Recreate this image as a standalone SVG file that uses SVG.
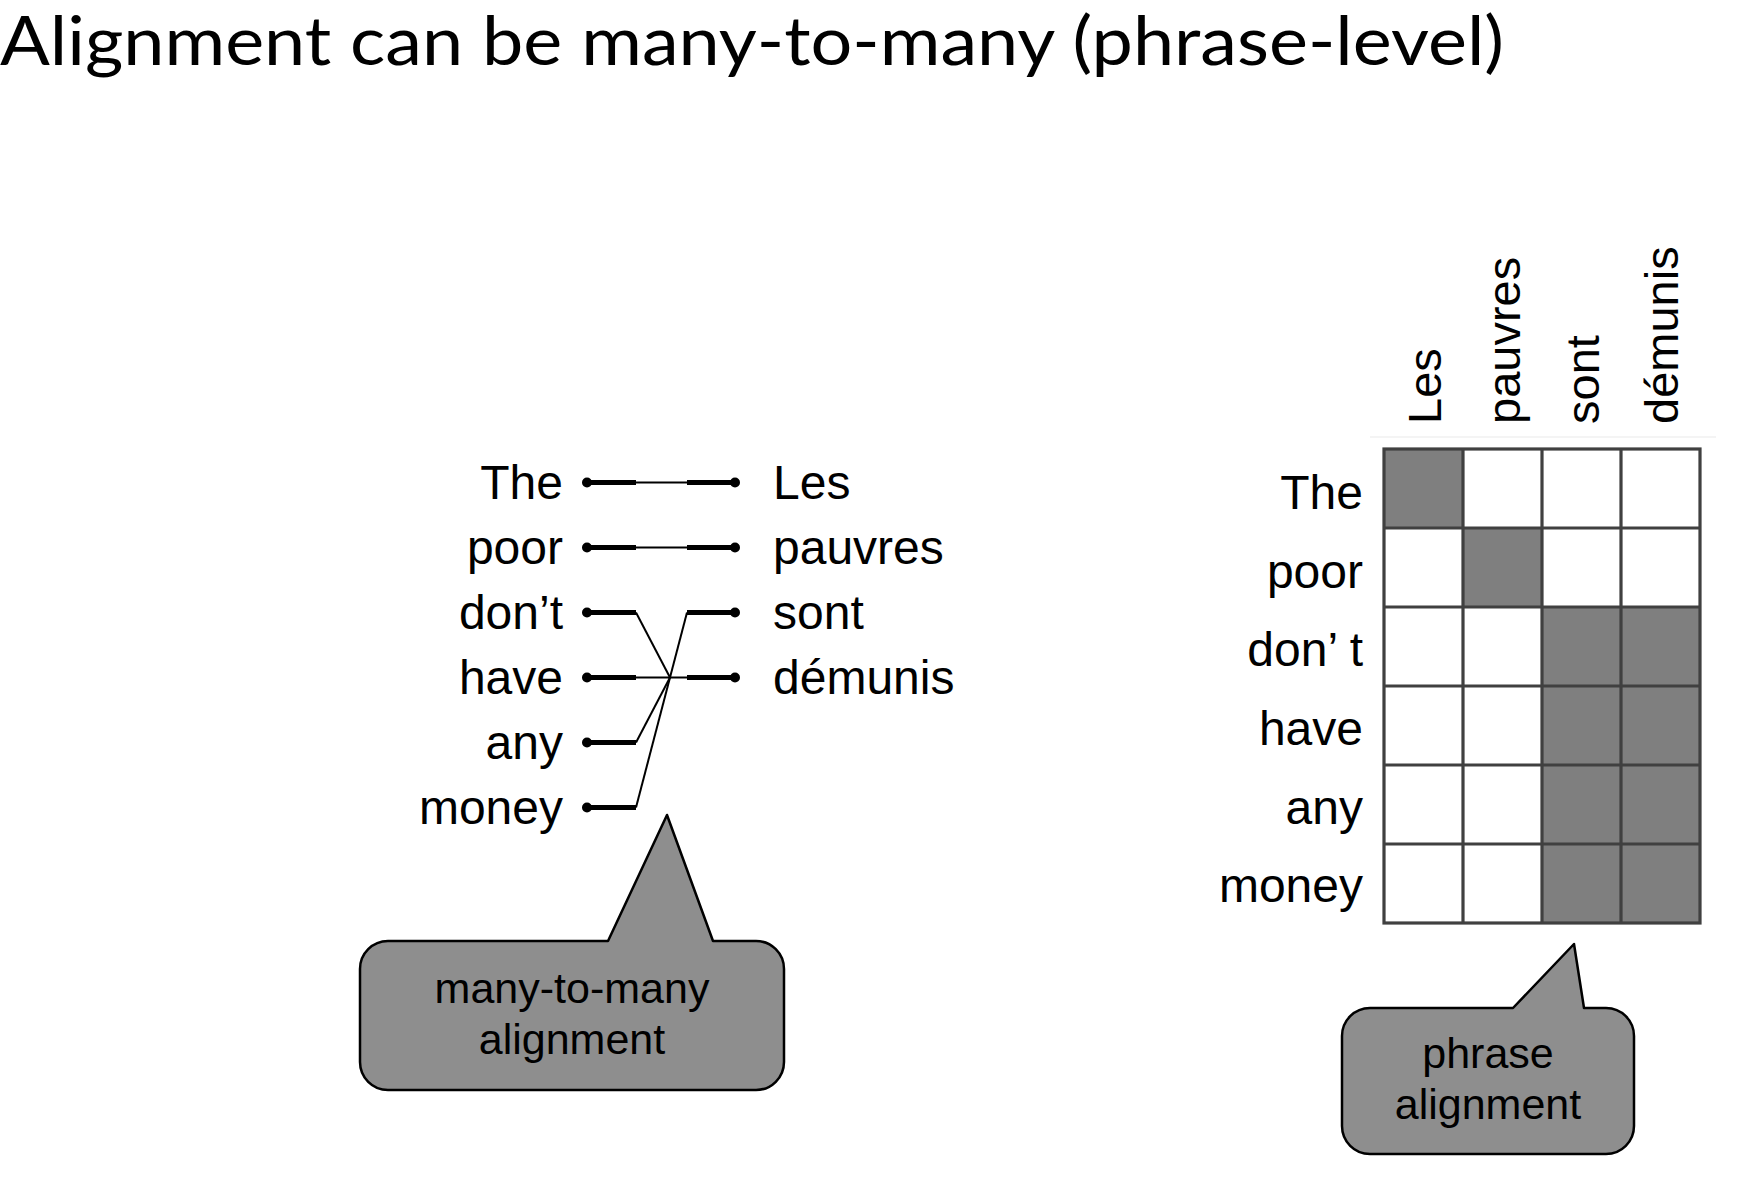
<svg xmlns="http://www.w3.org/2000/svg" width="1747" height="1183" viewBox="0 0 1747 1183">
<style>
.title{font-family:Lato,"Open Sans","Liberation Sans",sans-serif;font-size:68px;fill:#000}
.w{font-family:"Liberation Sans",Arial,sans-serif;font-size:48px;fill:#000}
.wl{font-family:"Liberation Sans",Arial,sans-serif;font-size:48px;fill:#000;text-anchor:end}
.col{font-family:"Liberation Sans",Arial,sans-serif;font-size:47px;fill:#000}
.ct{font-family:"Liberation Sans",Arial,sans-serif;font-size:43px;fill:#000;text-anchor:middle}
.thick{stroke:#000;stroke-width:5;fill:none}
.thin{stroke:#000;stroke-width:2;fill:none}
.dot{fill:#000}
.callout{fill:#8e8e8e;stroke:#000;stroke-width:2.5;stroke-linejoin:round}
.on{fill:#7f7f7f}
.off{fill:#fff}
.grid{stroke:#404040;stroke-width:3.2;fill:none}
</style>
<rect width="1747" height="1183" fill="#fff"/>
<text class="title" x="0" y="65" textLength="1504" lengthAdjust="spacingAndGlyphs">Alignment can be many-to-many (phrase-level)</text>

<g id="left-words">
<text class="wl" x="563" y="498.5">The</text>
<text class="wl" x="563" y="563.5">poor</text>
<text class="wl" x="563" y="628.5">don’t</text>
<text class="wl" x="563" y="693.5">have</text>
<text class="wl" x="563" y="758.5">any</text>
<text class="wl" x="563" y="823.5">money</text>
</g>
<g id="right-words">
<text class="w" x="773" y="498.5">Les</text>
<text class="w" x="773" y="563.5">pauvres</text>
<text class="w" x="773" y="628.5">sont</text>
<text class="w" x="773" y="693.5">démunis</text>
</g>

<g id="connectors">
<g class="thick">
<line x1="587" y1="482.5" x2="636" y2="482.5"/>
<line x1="587" y1="547.5" x2="636" y2="547.5"/>
<line x1="587" y1="612.5" x2="636" y2="612.5"/>
<line x1="587" y1="677.5" x2="636" y2="677.5"/>
<line x1="587" y1="742.5" x2="636" y2="742.5"/>
<line x1="587" y1="807.5" x2="636" y2="807.5"/>
<line x1="687" y1="482.5" x2="735" y2="482.5"/>
<line x1="687" y1="547.5" x2="735" y2="547.5"/>
<line x1="687" y1="612.5" x2="735" y2="612.5"/>
<line x1="687" y1="677.5" x2="735" y2="677.5"/>
</g>
<g class="thin">
<line x1="636" y1="482.5" x2="687" y2="482.5"/>
<line x1="636" y1="547.5" x2="687" y2="547.5"/>
<line x1="636" y1="677.5" x2="687" y2="677.5"/>
<line x1="636" y1="612.5" x2="670" y2="677.5"/>
<line x1="636" y1="742.5" x2="670" y2="677.5"/>
<line x1="636" y1="807.5" x2="687" y2="612.5"/>
</g>
<g class="dot">
<circle cx="587" cy="482.5" r="5"/>
<circle cx="587" cy="547.5" r="5"/>
<circle cx="587" cy="612.5" r="5"/>
<circle cx="587" cy="677.5" r="5"/>
<circle cx="587" cy="742.5" r="5"/>
<circle cx="587" cy="807.5" r="5"/>
<circle cx="735" cy="482.5" r="5"/>
<circle cx="735" cy="547.5" r="5"/>
<circle cx="735" cy="612.5" r="5"/>
<circle cx="735" cy="677.5" r="5"/>
</g>
</g>

<g id="callout-left">
<path class="callout" d="M388,941 L608,941 L667,815 L713,941 L756,941 A28,28 0 0 1 784,969 L784,1062 A28,28 0 0 1 756,1090 L388,1090 A28,28 0 0 1 360,1062 L360,969 A28,28 0 0 1 388,941 Z"/>
<text class="ct" x="572" y="1003">many-to-many</text>
<text class="ct" x="572" y="1054">alignment</text>
</g>

<g id="matrix">
<line x1="1370" y1="437" x2="1716" y2="437" stroke="#f4f4f4" stroke-width="2"/>
<g id="col-labels">
<text class="col" transform="translate(1440.5,424) rotate(-90)">Les</text>
<text class="col" transform="translate(1519.5,424) rotate(-90)">pauvres</text>
<text class="col" transform="translate(1598.5,424) rotate(-90)">sont</text>
<text class="col" transform="translate(1677.5,424) rotate(-90)">démunis</text>
</g>
<g id="row-labels">
<text class="wl" x="1363" y="508.5">The</text>
<text class="wl" x="1363" y="587.5">poor</text>
<text class="wl" x="1363" y="665.5">don’ t</text>
<text class="wl" x="1363" y="744.5">have</text>
<text class="wl" x="1363" y="823.5">any</text>
<text class="wl" x="1363" y="901.5">money</text>
</g>
<g id="cells">
<rect class="off" x="1384" y="449" width="316" height="474"/>
<rect class="on" x="1384" y="449" width="79" height="79"/>
<rect class="on" x="1463" y="528" width="79" height="79"/>
<rect class="on" x="1542" y="607" width="158" height="316"/>
</g>
<g class="grid">
<rect x="1384" y="449" width="316" height="474"/>
<line x1="1463" y1="449" x2="1463" y2="923"/>
<line x1="1542" y1="449" x2="1542" y2="923"/>
<line x1="1621" y1="449" x2="1621" y2="923"/>
<line x1="1384" y1="528" x2="1700" y2="528"/>
<line x1="1384" y1="607" x2="1700" y2="607"/>
<line x1="1384" y1="686" x2="1700" y2="686"/>
<line x1="1384" y1="765" x2="1700" y2="765"/>
<line x1="1384" y1="844" x2="1700" y2="844"/>
</g>
</g>

<g id="callout-right">
<path class="callout" d="M1370,1008 L1513,1008 L1574,944 L1584,1008 L1606,1008 A28,28 0 0 1 1634,1036 L1634,1126 A28,28 0 0 1 1606,1154 L1370,1154 A28,28 0 0 1 1342,1126 L1342,1036 A28,28 0 0 1 1370,1008 Z"/>
<text class="ct" x="1488" y="1068">phrase</text>
<text class="ct" x="1488" y="1119">alignment</text>
</g>
</svg>
